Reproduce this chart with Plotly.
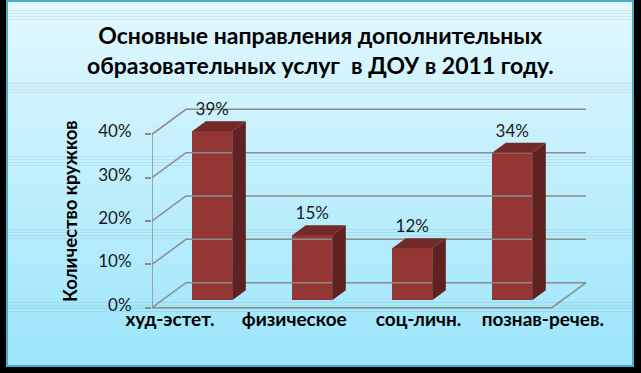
import plotly.graph_objects as go

# ---- data ----
categories = ["худ-эстет.", "физическое", "соц-личн.", "познав-речев."]
values = [39, 15, 12, 34]
tick_vals = [0, 10, 20, 30, 40]
tick_text = ["0%", "10%", "20%", "30%", "40%"]
title_text = "Основные направления дополнительных<br>образовательных услуг  в ДОУ в 2011 году."
y_title = "Количество кружков"

# ---- layout geometry (pixels) ----
W, H = 641, 373
L, R, T, B = 152, 620, 100, 310
PX_PER_CAT = 100.0
Y0_PX = 307.7
PX_PER_UNIT = 4.335

x_range = [-0.5, -0.5 + (R - L) / PX_PER_CAT]
y_range = [(Y0_PX - B) / PX_PER_UNIT, (Y0_PX - T) / PX_PER_UNIT]

# 3D depth vector in data units
DX = 34 / PX_PER_CAT
DY = 25 / PX_PER_UNIT
F0, F1 = 0.3, 0.7           # bar depth placement (fractions of depth)
BAR_W = 0.4

def px_x(p):
    return (p - L) / (R - L)

def px_y(p):
    return (B - p) / (B - T)

FONT = "Lato, 'Open Sans', sans-serif"
GRID = "#8c8c8c"

fig = go.Figure()

# ---- back wall gridlines & floor ----
n = len(categories)
gx, gy = [], []
for g in tick_vals:
    gx += [-0.5, -0.5 + DX, n - 0.5 + DX, None]
    gy += [g, g + DY, g + DY, None]
gx += [-0.5, n - 0.5, n - 0.5 + DX, None]
gy += [0, 0, DY, None]
gx += [-0.5, -0.5]
gy += [0, tick_vals[-1]]
fig.add_trace(go.Scatter(x=gx, y=gy, mode="lines",
                         line=dict(color=GRID, width=1.5),
                         hoverinfo="skip", showlegend=False))

# ---- bars ----
ox, oy = F0 * DX, F0 * DY
ddx, ddy = (F1 - F0) * DX, (F1 - F0) * DY
xs = [i + ox for i in range(n)]

sx, sy = [], []
tx, ty = [], []
for i, v in enumerate(values):
    xl = xs[i] - BAR_W / 2
    xr = xs[i] + BAR_W / 2
    top = v + oy
    sx += [xr, xr, xr + ddx, xr + ddx, xr, None]
    sy += [oy, top, top + ddy, oy + ddy, oy, None]
    tx += [xl, xr, xr + ddx, xl + ddx, xl, None]
    ty += [top, top, top + ddy, top + ddy, top, None]
fig.add_trace(go.Scatter(x=sx, y=sy, mode="lines", fill="toself",
                         fillcolor="#5f2220", line=dict(width=0, color="#5f2220"),
                         hoverinfo="skip", showlegend=False))
fig.add_trace(go.Scatter(x=tx, y=ty, mode="lines", fill="toself",
                         fillcolor="#732a28", line=dict(width=0, color="#732a28"),
                         hoverinfo="skip", showlegend=False))
fig.add_trace(go.Bar(x=xs, y=values, base=oy, width=BAR_W,
                     marker=dict(color="#943634", line=dict(width=0)),
                     hoverinfo="skip", showlegend=False))

# data labels
fig.add_trace(go.Scatter(
    x=xs, y=[v + oy + ddy + 10.5 / PX_PER_UNIT for v in values],
    mode="text", text=[f"{v}%" for v in values],
    textposition="middle center",
    textfont=dict(family=FONT, size=17, color="#1a1a1a"),
    hoverinfo="skip", showlegend=False, cliponaxis=False))

# invisible trace so the category axis is drawn
fig.add_trace(go.Scatter(x=list(range(n)), y=values, xaxis="x2", mode="markers",
                         marker=dict(opacity=0), hoverinfo="skip", showlegend=False))

# ---- background panel with gradient ----
shapes = []
top_c = (0xE2, 0xF8, 0xFE)
bot_c = (0x9C, 0xE5, 0xFB)
y_top, y_bot = 1.0, 366.0
N = 120
for k in range(N):
    a = y_top + (y_bot - y_top) * k / N
    b = y_top + (y_bot - y_top) * (k + 1) / N + 0.6
    t = (k + 0.5) / N
    c = tuple(round(top_c[j] + (bot_c[j] - top_c[j]) * t) for j in range(3))
    shapes.append(dict(type="rect", xref="paper", yref="paper", layer="below",
                       x0=px_x(7), x1=px_x(633), y0=px_y(min(b, y_bot)), y1=px_y(a),
                       fillcolor="rgb(%d,%d,%d)" % c, line=dict(width=0)))
shapes.append(dict(type="rect", xref="paper", yref="paper", layer="below",
                   x0=px_x(7), x1=px_x(633), y0=px_y(366), y1=px_y(1),
                   fillcolor="rgba(0,0,0,0)", line=dict(color="#4bacc6", width=2)))

annotations = [
    dict(text="<b>" + title_text.replace("<br>", "</b><br><b>") + "</b>",
         xref="paper", yref="paper", x=px_x(320.5), y=px_y(50),
         xanchor="center", yanchor="middle", showarrow=False, align="center",
         font=dict(family=FONT, size=23, color="#000000")),
    dict(text="<b>" + y_title + "</b>", textangle=-90,
         xref="paper", yref="paper", x=px_x(70), y=px_y(211),
         xanchor="center", yanchor="middle", showarrow=False,
         font=dict(family=FONT, size=18.5, color="#000000")),
]

fig.update_layout(
    width=W, height=H,
    margin=dict(l=L, r=W - R, t=T, b=H - B, pad=0),
    paper_bgcolor="#000000",
    plot_bgcolor="rgba(0,0,0,0)",
    shapes=shapes,
    annotations=annotations,
    bargap=0,
    xaxis=dict(range=x_range, visible=False, fixedrange=True),
    xaxis2=dict(overlaying="x", anchor="y", side="bottom",
                range=[(L - 170) / 124.3, (R - 170) / 124.3],
                tickmode="array", tickvals=list(range(n)), ticktext=categories,
                showgrid=False, zeroline=False, showline=False, ticks="",
                tickfont=dict(family=FONT, size=19, color="#000000", weight="bold"),
                ticklabelstandoff=-4),
    yaxis=dict(range=y_range, tickmode="array", tickvals=tick_vals, ticktext=tick_text,
               ticks="outside", ticklen=6, tickcolor=GRID, tickwidth=1.5,
               showgrid=False, zeroline=False, showline=False,
               ticklabelstandoff=10, ticklabelshift=-3,
               tickfont=dict(family=FONT, size=17, color="#1a1a1a")),
)

fig.write_html("out.html", config={"displayModeBar": False},
               post_script="document.body.style.margin='0';document.body.style.background='#000';")
